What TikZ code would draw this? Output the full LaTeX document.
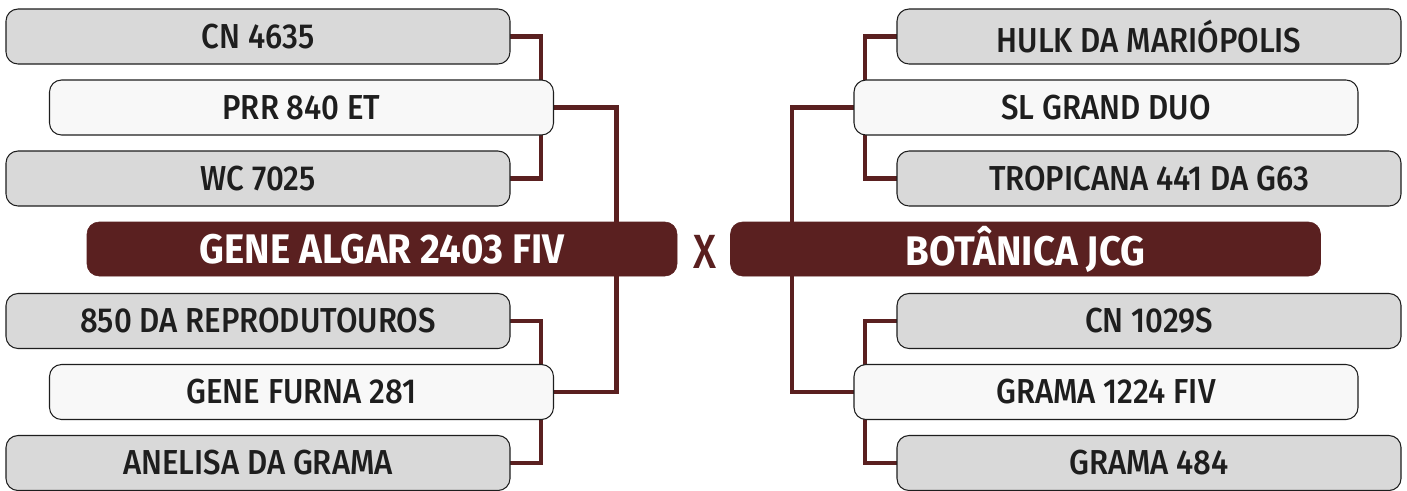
\documentclass[tikz,border=0pt]{standalone}
\usepackage{fontspec}
\setmainfont{Fira Sans}[UprightFont=* Medium, BoldFont=* SemiBold, FakeStretch=0.9]
\newfontfamily\headfont{Fira Sans}[UprightFont=* Bold, FakeStretch=0.93]
\newfontfamily\xfont{Fira Sans}[UprightFont=* Medium, FakeStretch=0.85]
\usetikzlibrary{backgrounds}
\definecolor{wine}{HTML}{5A2020}
\definecolor{ink}{HTML}{1E1E1E}
\definecolor{gfill}{HTML}{D9D9D9}
\definecolor{wfill}{HTML}{F8F8F8}
\tikzset{
  x=0.75pt, y=-0.75pt,
  base/.style={rectangle, rounded corners=9pt, draw=ink, line width=0.8pt,
    inner sep=0pt, outer sep=0pt, minimum width=378pt, minimum height=41.25pt,
    text=ink, font=\fontsize{26}{28}\selectfont},
  graybox/.style={base, fill=gfill},
  whitebox/.style={base, fill=wfill},
  mainbox/.style={rectangle, rounded corners=9pt, draw=wine, fill=wine,
    inner sep=0pt, outer sep=0pt, minimum width=442.5pt, minimum height=40.5pt,
    text=white, font=\headfont\fontsize{31}{33}\selectfont},
  conn/.style={draw=wine, line width=3.2pt},
  vslabel/.style={text=wine, font=\xfont\fontsize{36}{38}\selectfont, inner sep=0pt}
}
\begin{document}
\begin{tikzpicture}
\useasboundingbox (0,0) rectangle (1407,490);
% left side
\node[graybox] (cn4635) at (258,36.5) {CN 4635};
\node[whitebox] (prr) at (301.5,107.5) {PRR 840 ET};
\node[graybox] (wc) at (258,178.5) {WC 7025};
\node[mainbox] (algar) at (382,249) {GENE ALGAR 2403 FIV};
\node[graybox] (rep) at (258,321) {850 DA REPRODUTOUROS};
\node[whitebox] (furna) at (301.5,392) {GENE FURNA 281};
\node[graybox] (anelisa) at (258,463) {ANELISA DA GRAMA};
% right side
\node[graybox] (hulk) at (1149,36.5) {HULK DA MARIÓPOLIS};
\node[whitebox] (sl) at (1106,107.5) {SL GRAND DUO};
\node[graybox] (trop) at (1149,178.5) {TROPICANA 441 DA G63};
\node[mainbox] (bot) at (1025.5,249) {BOTÂNICA JCG};
\node[graybox] (cn1029) at (1149,321) {CN 1029S};
\node[whitebox] (g1224) at (1106,392) {GRAMA 1224 FIV};
\node[graybox] (g484) at (1149,463) {GRAMA 484};
\node[vslabel] (vs) at (705,252) {X};
\begin{pgfonlayer}{background}
\fill[white] (0,0) rectangle (1407,490);
\draw[conn] (cn4635.east) -- ++(31,0) |- (wc.east);
\draw[conn] (rep.east) -- ++(31,0) |- (anelisa.east);
\draw[conn] (prr.east) -- ++(63,0) |- (furna.east);
\draw[conn] (hulk.west) -- ++(-32,0) |- (trop.west);
\draw[conn] (cn1029.west) -- ++(-32,0) |- (g484.west);
\draw[conn] (sl.west) -- ++(-62,0) |- (g1224.west);
\end{pgfonlayer}
\end{tikzpicture}
\end{document}
